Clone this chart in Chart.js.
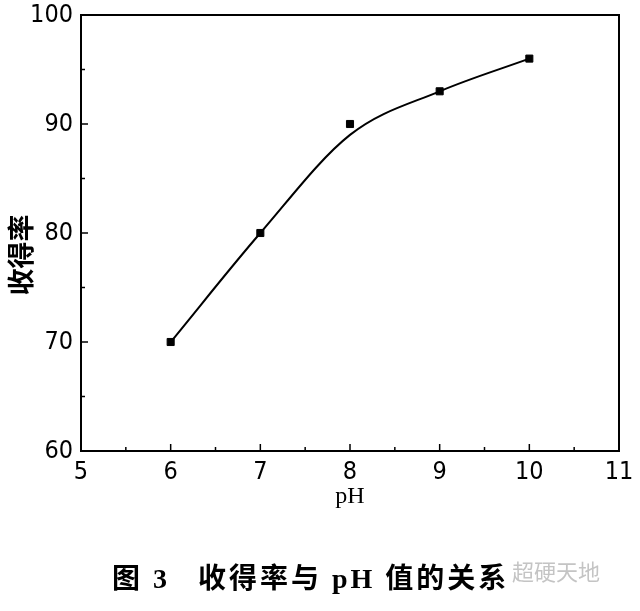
<!DOCTYPE html>
<html>
<head>
<meta charset="utf-8">
<script src="https://cdn.jsdelivr.net/npm/chart.js@4"></script>
<style>
  html, body { margin: 0; padding: 0; background: #fff; }
  #wrap { width: 640px; height: 611px; }
</style>
</head>
<body>
<div id="wrap"><canvas id="yield-chart" width="640" height="611"></canvas></div>
<script>
// pH values and measured yield (%)
const phValues = [6, 7, 8, 9, 10];
const yieldPoints = [70, 80, 90, 93, 96];
// smoothed fit curve
const fitCurve = [70, 80, 89, 93, 96];

const xTicks = [5, 6, 7, 8, 9, 10, 11];
const yTicks = [60, 70, 80, 90, 100];

const yTitle = "收得率";
const xTitle = "pH";
const captionLeft = "图 3";
const captionRight = "收得率与 pH 值的关系";
const watermark = "超硬天地";

const tickFont = "'Liberation Sans Narrow', 'DejaVu Sans Condensed', 'Liberation Sans', sans-serif";

// inward ticks, box border, rotated y title, caption
const framePlugin = {
    id: "frame",
    afterDraw(chart) {
        const ctx = chart.ctx;
        const area = chart.chartArea;
        const xs = chart.scales.x;
        const ys = chart.scales.y;

        ctx.save();
        ctx.strokeStyle = "#000";
        ctx.lineWidth = 2;
        ctx.strokeRect(area.left, area.top, area.right - area.left, area.bottom - area.top);

        ctx.lineWidth = 1.5;
        for (let i = 0; i < xTicks.length; i++) {
            const px = xs.getPixelForValue(xTicks[i]);
            ctx.beginPath();
            ctx.moveTo(px, area.bottom);
            ctx.lineTo(px, area.bottom - 7);
            ctx.stroke();
            if (i < xTicks.length - 1) {
                const mx = xs.getPixelForValue((xTicks[i] + xTicks[i + 1]) / 2);
                ctx.beginPath();
                ctx.moveTo(mx, area.bottom);
                ctx.lineTo(mx, area.bottom - 4);
                ctx.stroke();
            }
        }
        for (let i = 0; i < yTicks.length; i++) {
            const py = ys.getPixelForValue(yTicks[i]);
            ctx.beginPath();
            ctx.moveTo(area.left, py);
            ctx.lineTo(area.left + 7, py);
            ctx.stroke();
            if (i < yTicks.length - 1) {
                const my = ys.getPixelForValue((yTicks[i] + yTicks[i + 1]) / 2);
                ctx.beginPath();
                ctx.moveTo(area.left, my);
                ctx.lineTo(area.left + 4, my);
                ctx.stroke();
            }
        }

        // y title
        ctx.fillStyle = "#000";
        ctx.font = "bold 27px 'Noto Sans CJK SC'";
        ctx.textAlign = "center";
        ctx.textBaseline = "middle";
        ctx.translate(21, 255);
        ctx.rotate(-Math.PI / 2);
        ctx.fillText(yTitle, 0, 0);
        ctx.restore();

        // caption
        ctx.save();
        ctx.fillStyle = "#000";
        ctx.textBaseline = "middle";
        ctx.textAlign = "left";
        ctx.font = "bold 28px 'Liberation Serif', 'Noto Sans CJK SC'";
        ctx.letterSpacing = "3px";
        ctx.fillText(captionLeft, 112, 581);
        ctx.fillText(captionRight, 198, 581);
        ctx.letterSpacing = "0px";
        ctx.fillStyle = "#c4c4c4";
        ctx.font = "22px 'Noto Sans CJK SC'";
        ctx.fillText(watermark, 512, 572);
        ctx.restore();
    }
};

const ctx = document.getElementById("yield-chart").getContext("2d");

new Chart(ctx, {
    type: "line",
    data: {
        datasets: [{
            label: "fit",
            data: phValues.map((p, i) => ({ x: p, y: fitCurve[i] })),
            borderColor: "#000",
            borderWidth: 2,
            pointRadius: 0,
            fill: false,
            cubicInterpolationMode: "monotone"
        }, {
            label: "measured",
            data: phValues.map((p, i) => ({ x: p, y: yieldPoints[i] })),
            showLine: false,
            pointStyle: "rect",
            pointRadius: 5,
            pointBackgroundColor: "#000",
            pointBorderColor: "#000",
            pointBorderWidth: 1
        }]
    },
    options: {
        responsive: false,
        animation: false,
        layout: {
            padding: { left: 0, right: 21, top: 15, bottom: 100 }
        },
        plugins: {
            legend: { display: false },
            tooltip: { enabled: false }
        },
        scales: {
            x: {
                type: "linear",
                min: 5,
                max: 11,
                afterBuildTicks: (scale) => { scale.ticks = xTicks.map(v => ({ value: v })); },
                afterFit: (scale) => {
                    scale.height = 60;
                    scale.paddingLeft = 0;
                    scale.paddingRight = 0;
                },
                grid: { drawOnChartArea: false, drawTicks: false },
                border: { color: "#000", width: 2 },
                ticks: {
                    color: "#000",
                    padding: 6,
                    maxRotation: 0,
                    font: { family: tickFont, size: 25 }
                },
                title: {
                    display: true,
                    text: xTitle,
                    color: "#000",
                    padding: 0,
                    font: { family: "'Liberation Serif', serif", size: 24 }
                }
            },
            y: {
                min: 60,
                max: 100,
                afterBuildTicks: (scale) => { scale.ticks = yTicks.map(v => ({ value: v })); },
                afterFit: (scale) => {
                    scale.width = 81;
                    scale.paddingTop = 0;
                    scale.paddingBottom = 0;
                },
                grid: { drawOnChartArea: false, drawTicks: false },
                border: { color: "#000", width: 2 },
                ticks: {
                    color: "#000",
                    padding: 8,
                    font: { family: tickFont, size: 25 }
                }
            }
        }
    },
    plugins: [framePlugin]
});
</script>
</body>
</html>
